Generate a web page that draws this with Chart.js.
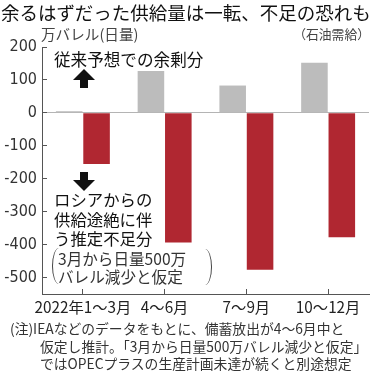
<!DOCTYPE html>
<html><head><meta charset="utf-8">
<script src="https://cdn.jsdelivr.net/npm/chart.js@4/dist/chart.umd.min.js"></script>
<style>
html,body{margin:0;padding:0;background:#fff;}
#wrap{position:relative;width:373px;height:373px;overflow:hidden;font-family:"Noto Sans CJK JP","Noto Sans",sans-serif;color:#222;}
#c{position:absolute;left:0;top:0;}
.t{position:absolute;white-space:nowrap;line-height:1;}
.up,.down{position:absolute;width:22px;height:19px;}
.up .h{position:absolute;left:0;top:0;width:0;height:0;border-left:11px solid transparent;border-right:11px solid transparent;border-bottom:11px solid #111;}
.up .s{position:absolute;left:7px;top:10px;width:8px;height:9px;background:#111;}
.down .h{position:absolute;left:0;bottom:0;width:0;height:0;border-left:11px solid transparent;border-right:11px solid transparent;border-top:11px solid #111;}
.down .s{position:absolute;left:7px;top:0;width:8px;height:9px;background:#111;}
.pl{position:absolute;width:7px;height:36px;border-left:1.2px solid #444;border-radius:7px 0 0 7px / 18px 0 0 18px;}
.pr{position:absolute;width:7px;height:36px;border-right:1.2px solid #444;border-radius:0 7px 7px 0 / 0 18px 18px 0;}
</style></head>
<body>
<div id="wrap">
<canvas id="c" width="373" height="373"></canvas>
<div class="t" style="left:1px;top:3px;font-size:18.5px;color:#111;">余るはずだった供給量は一転、不足の恐れも</div>
<div class="t" style="left:41px;top:27px;font-size:14.6px;color:#444;">万バレル(日量)</div>
<div class="t" style="right:3px;top:28px;font-size:12.8px;color:#444;">（石油需給）</div>
<div class="t" style="left:54px;top:51px;font-size:16.6px;color:#111;">従来予想での余剰分</div>
<div class="up" style="left:73px;top:69px;"><div class="h"></div><div class="s"></div></div>
<div class="down" style="left:73px;top:172px;"><div class="s"></div><div class="h"></div></div>
<div class="t" style="left:54px;top:190px;font-size:16.4px;line-height:19.5px;color:#111;">ロシアからの<br>供給途絶に伴<br>う推定不足分</div>
<div class="pl" style="left:52px;top:248px;"></div>
<div class="t" style="left:58px;top:249px;font-size:15.6px;line-height:18px;color:#333;">3月から日量500万<br>バレル減少と仮定</div>
<div class="pr" style="left:204px;top:249px;"></div>
<div class="t" style="left:10px;top:320px;font-size:13.8px;line-height:17.5px;color:#333;">(注)IEAなどのデータをもとに、備蓄放出が4～6月中と<br><span style="padding-left:30px">仮定し推計。「3月から日量500万バレル減少と仮定」</span><br><span style="padding-left:30px">ではOPECプラスの生産計画未達が続くと別途想定</span></div>
</div>
<script>
const categories = ["2022年1～3月", "4～6月", "7～9月", "10～12月"];
const previousSurplus = [5, 127, 83, 152];
const russiaShortage = [-155, -394, -476, -378];
const yTickValues = [200, 100, 0, -100, -200, -300, -400, -500];

const chart = new Chart(document.getElementById('c'), {
  type: 'bar',
  data: {
    labels: categories,
    datasets: [
      {label: '従来予想での余剰分', data: previousSurplus, backgroundColor: '#bcbcbc', categoryPercentage: 0.67, barPercentage: 0.97},
      {label: 'ロシアからの供給途絶に伴う推定不足分', data: russiaShortage, backgroundColor: '#b02731', categoryPercentage: 0.67, barPercentage: 0.97}
    ]
  },
  options: {
    responsive: false,
    animation: false,
    devicePixelRatio: 1,
    layout: {padding: {top: 47, right: 4, left: 0, bottom: 0}},
    plugins: {legend: {display: false}, tooltip: {enabled: false}},
    scales: {
      x: {
        grid: {drawOnChartArea: false, tickLength: -5, tickColor: '#555', offset: false},
        border: {display: true, color: '#555', width: 1},
        ticks: {padding: 9, color: '#222', font: {family: '"Noto Sans CJK JP", sans-serif', size: 15.3}, maxRotation: 0, autoSkip: false},
        afterFit: s => { s.height = 79; }
      },
      y: {
        min: -550, max: 200,
        afterBuildTicks: s => { s.ticks = yTickValues.map(v => ({value: v})); },
        grid: {
          tickLength: -5,
          tickColor: '#555',
          color: ctx => (ctx.tick && ctx.tick.value === 0) ? '#b4b4b4' : 'rgba(0,0,0,0)',
          lineWidth: 1
        },
        border: {display: true, color: '#555', width: 1},
        ticks: {padding: 10, color: '#333', font: {family: '"Liberation Sans Narrow", "DejaVu Sans Condensed", sans-serif', size: 16}},
        afterFit: s => { s.width = 42; }
      }
    }
  }
});
</script>
</body></html>
